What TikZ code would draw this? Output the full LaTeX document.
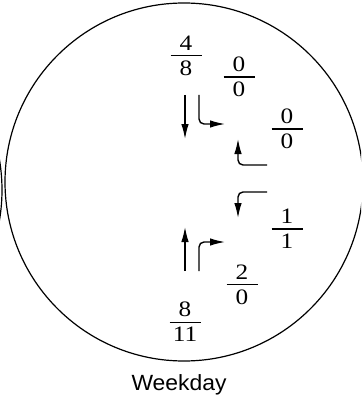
\documentclass[tikz,border=0pt]{standalone}
\usepackage{fontspec}
\newfontfamily\labfont[FakeStretch=1.04]{Liberation Sans}
\newfontfamily\digfont[FakeStretch=1.15]{Liberation Serif}
\usetikzlibrary{arrows.meta}
\newcommand\fracnum[2]{\vbox{\offinterlineskip\halign{\hfil##\hfil\cr
  \digfont #1\cr\noalign{\vskip4.5pt}
  \rule{31pt}{1.1pt}\cr\noalign{\vskip4.5pt}
  \digfont #2\cr}}}
\tikzset{
  ring/.style={line width=1.2pt},
  frac/.style={inner sep=0pt, anchor=center, font=\fontsize{22}{26}\selectfont},
  flow/.style={line width=1.4pt, -{Latex[length=15pt,width=7.5pt]}, rounded corners=5pt},
  lab/.style={anchor=base, font=\labfont\fontsize{22}{26}\selectfont}
}
\begin{document}
\begin{tikzpicture}[x=1pt,y=-1pt]
\useasboundingbox (0,0) rectangle (361,409);
\begin{scope}
  \clip (0,0) rectangle (361,409);
  \draw[ring] (184,182) circle (179);
  \draw[ring] (-177,190) circle (179);
\end{scope}
% fractions (centred on the bar)
\node[frac] (nA) at (186,56) {\fracnum{4}{8}};
\node[frac] (nB) at (239,77) {\fracnum{0}{0}};
\node[frac] (nC) at (287,129) {\fracnum{0}{0}};
\node[frac] (nD) at (287,229) {\fracnum{1}{1}};
\node[frac] (nE) at (242,285) {\fracnum{2}{0}};
\node[frac] (nF) at (185,322) {\fracnum{8}{11}};
\node[lab] (lab) at (179,390) {Weekday};
% arrow ends
\coordinate (a1s) at (185,95);  \coordinate (a1e) at (185,139);
\coordinate (a2s) at (199,95);  \coordinate (a2e) at (225,124);
\coordinate (a3s) at (267,165); \coordinate (a3e) at (238,139);
\coordinate (a4s) at (267,192); \coordinate (a4e) at (238,218);
\coordinate (a5s) at (185,271); \coordinate (a5e) at (185,227);
\coordinate (a6s) at (199,271); \coordinate (a6e) at (225,242);
\draw[flow] (a1s) -- (a1e);
\draw[flow] (a2s) |- (a2e);
\draw[flow] (a3s) -| (a3e);
\draw[flow] (a4s) -| (a4e);
\draw[flow] (a5s) -- (a5e);
\draw[flow] (a6s) |- (a6e);
\end{tikzpicture}
\end{document}
